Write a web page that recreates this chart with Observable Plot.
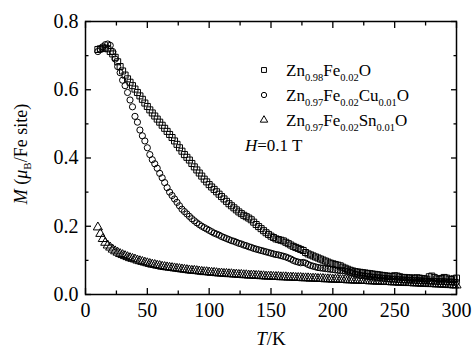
<!DOCTYPE html>
<html><head><meta charset="utf-8">
<script src="https://cdn.jsdelivr.net/npm/d3@7"></script>
<script src="https://cdn.jsdelivr.net/npm/@observablehq/plot@0.6"></script>
<style>
body{margin:0;background:#fff}
svg, svg text{font-family:"Liberation Serif","Times New Roman","DejaVu Serif",serif !important}
</style>
</head><body><div id="chart"></div>
<script>
const temperature = [10,12,14,16,18,20,22,24,26,28,30,32,34,36,38,40,42,44,46,48,50,52,54,56,58,60,62,64,66,68,70,72,74,76,78,80,82,84,86,88,90,92,94,96,98,100,102,104,106,108,110,112,114,116,118,120,122,124,126,128,130,132,134,136,138,140,142,144,146,148,150,152,154,156,158,160,162,164,166,168,170,172,174,176,178,180,182,184,186,188,190,192,194,196,198,200,202,204,206,208,210,212,214,216,218,220,222,224,226,228,230,232,234,236,238,240,242,244,246,248,250,252,254,256,258,260,262,264,266,268,270,272,274,276,278,280,282,284,286,288,290,292,294,296,298,300];

const mZnFe = [
0.718,0.72,0.722,0.722,0.72,0.712,0.705,0.695,0.682,0.668,
0.655,0.643,0.632,0.622,0.612,0.602,0.592,0.582,0.572,0.561,
0.551,0.541,0.532,0.523,0.514,0.505,0.496,0.487,0.478,0.469,
0.46,0.45,0.44,0.43,0.42,0.41,0.402,0.394,0.384,0.374,
0.365,0.356,0.347,0.338,0.33,0.322,0.315,0.308,0.301,0.294,
0.287,0.28,0.273,0.266,0.26,0.254,0.248,0.242,0.237,0.232,
0.228,0.224,0.219,0.212,0.205,0.199,0.193,0.187,0.181,0.176,
0.171,0.167,0.163,0.161,0.159,0.157,0.153,0.149,0.145,0.141,
0.138,0.135,0.132,0.129,0.123,0.119,0.116,0.113,0.11,0.107,
0.104,0.101,0.098,0.095,0.092,0.09,0.088,0.086,0.084,0.08,
0.077,0.074,0.071,0.069,0.067,0.066,0.065,0.064,0.063,0.062,
0.061,0.06,0.059,0.058,0.057,0.056,0.055,0.054,0.053,0.053,
0.055,0.054,0.052,0.05,0.05,0.049,0.049,0.048,0.048,0.049,
0.048,0.047,0.046,0.045,0.052,0.054,0.05,0.046,0.045,0.047,
0.05,0.048,0.045,0.044,0.046,0.048];

const mZnFeCu = [
0.712,0.718,0.726,0.732,0.734,0.73,0.712,0.69,0.668,0.65,
0.628,0.612,0.592,0.57,0.55,0.522,0.505,0.482,0.465,0.45,
0.43,0.41,0.395,0.383,0.37,0.355,0.342,0.328,0.313,0.3,
0.29,0.28,0.27,0.26,0.25,0.243,0.236,0.229,0.222,0.216,
0.21,0.205,0.2,0.196,0.192,0.188,0.184,0.18,0.177,0.174,
0.17,0.167,0.164,0.161,0.158,0.156,0.153,0.15,0.148,0.145,
0.143,0.14,0.138,0.135,0.133,0.131,0.129,0.127,0.125,0.123,
0.121,0.119,0.117,0.116,0.114,0.112,0.11,0.107,0.104,0.1,
0.097,0.095,0.093,0.094,0.092,0.088,0.085,0.083,0.081,0.079,
0.078,0.077,0.076,0.075,0.074,0.073,0.072,0.071,0.07,0.07,
0.069,0.067,0.065,0.063,0.06,0.058,0.056,0.055,0.054,0.053,
0.052,0.051,0.05,0.05,0.049,0.048,0.047,0.047,0.046,0.045,
0.045,0.044,0.044,0.043,0.043,0.042,0.042,0.042,0.041,0.041,
0.041,0.04,0.04,0.04,0.039,0.039,0.039,0.038,0.038,0.038,
0.038,0.037,0.037,0.037,0.036,0.036];

const mZnFeSn = [
0.197,0.178,0.163,0.152,0.144,0.138,0.132,0.127,0.123,0.119,
0.116,0.113,0.11,0.107,0.105,0.103,0.1,0.098,0.096,0.094,
0.092,0.09,0.088,0.087,0.085,0.084,0.082,0.081,0.08,0.079,
0.078,0.077,0.076,0.075,0.074,0.073,0.072,0.071,0.07,0.07,
0.069,0.068,0.067,0.066,0.066,0.065,0.064,0.064,0.063,0.062,
0.062,0.061,0.061,0.06,0.06,0.059,0.059,0.058,0.058,0.057,
0.057,0.056,0.056,0.056,0.055,0.055,0.054,0.054,0.053,0.053,
0.053,0.052,0.052,0.052,0.051,0.051,0.051,0.05,0.05,0.05,
0.049,0.049,0.049,0.048,0.048,0.048,0.047,0.047,0.047,0.046,
0.046,0.046,0.045,0.045,0.045,0.044,0.044,0.044,0.043,0.043,
0.043,0.042,0.042,0.042,0.041,0.041,0.041,0.04,0.04,0.04,
0.039,0.039,0.039,0.038,0.038,0.038,0.037,0.037,0.037,0.036,
0.036,0.036,0.035,0.035,0.035,0.034,0.034,0.034,0.033,0.033,
0.033,0.032,0.032,0.032,0.031,0.031,0.031,0.03,0.03,0.03,
0.029,0.029,0.028,0.028,0.027,0.027];

const seriesSymbols = ["square","circle","triangle"];
const legendParts = [
  [["Zn",0],["0.98",1],["Fe",0],["0.02",1],["O",0]],
  [["Zn",0],["0.97",1],["Fe",0],["0.02",1],["Cu",0],["0.01",1],["O",0]],
  [["Zn",0],["0.97",1],["Fe",0],["0.02",1],["Sn",0],["0.01",1],["O",0]]
];
const xTicks = [0,50,100,150,200,250,300];
const xMinorTicks = [25,75,125,175,225,275];
const yTicks = [0,0.2,0.4,0.6,0.8];
const yMinorTicks = [0.1,0.3,0.5,0.7];

const seriesValues = [mZnFe, mZnFeCu, mZnFeSn];
const rows = seriesValues.map(vals => temperature.map((t,i) => ({T:t, M:vals[i]})));

const FONT = "'Liberation Serif','Times New Roman','DejaVu Serif',serif";
const blank = () => "";
const chart = Plot.plot({
  width:475, height:350,
  marginLeft:85, marginRight:19, marginTop:21, marginBottom:56,
  style:{fontFamily:FONT, fontSize:"19px", background:"white", color:"black"},
  x:{domain:[0,300]},
  y:{domain:[0,0.8]},
  marks:[
    ...rows.map((r,k) => Plot.dot(r, {x:"T", y:"M", symbol:() => seriesSymbols[k], r: k===1 ? 3.1 : 3.4, stroke:"black", fill:"none", strokeWidth:1})),
    Plot.axisX({ticks:xTicks, tickSize:-6, tickPadding:14, tickFormat:d=>String(d), label:null, strokeWidth:1.3, fontSize:20}),
    Plot.axisX({ticks:xMinorTicks, tickSize:-3.5, tickFormat:blank, label:null, strokeWidth:1.3}),
    Plot.axisX({anchor:"top", ticks:xTicks, tickSize:-6, tickFormat:blank, label:null, strokeWidth:1.3}),
    Plot.axisX({anchor:"top", ticks:xMinorTicks, tickSize:-3.5, tickFormat:blank, label:null, strokeWidth:1.3}),
    Plot.axisY({ticks:yTicks, tickSize:-6, tickPadding:13, tickFormat:d3.format(".1f"), label:null, strokeWidth:1.3, fontSize:20}),
    Plot.axisY({ticks:yMinorTicks, tickSize:-3.5, tickFormat:blank, label:null, strokeWidth:1.3}),
    Plot.axisY({anchor:"right", ticks:yTicks, tickSize:-6, tickFormat:blank, label:null, strokeWidth:1.3}),
    Plot.axisY({anchor:"right", ticks:yMinorTicks, tickSize:-3.5, tickFormat:blank, label:null, strokeWidth:1.3}),
    Plot.frame({stroke:"black", strokeWidth:1.5})
  ]
});
document.getElementById("chart").appendChild(chart);

const svg = d3.select(chart);
svg.attr("font-family", FONT);
// x-axis label
const xl = svg.append("text").attr("x",271).attr("y",345).attr("text-anchor","middle")
  .attr("font-size",19).attr("fill","black").attr("font-family",FONT);
xl.append("tspan").attr("font-style","italic").text("T");
xl.append("tspan").text("/K");
// y-axis label
const yl = svg.append("text").attr("transform","translate(27,154) rotate(-90)")
  .attr("text-anchor","middle").attr("font-size",18).attr("fill","black").attr("font-family",FONT);
yl.append("tspan").attr("font-style","italic").text("M");
yl.append("tspan").text(" (");
yl.append("tspan").attr("font-style","italic").text("μ");
yl.append("tspan").attr("font-size",11).attr("dy",4).text("B");
yl.append("tspan").attr("dy",-4).text("/Fe site)");

// legend
const d3Sym = {square:d3.symbolSquare, circle:d3.symbolCircle, triangle:d3.symbolTriangle};
const lg = svg.append("g").attr("text-anchor","start").attr("font-family",FONT);
legendParts.forEach((parts,i) => {
  const cy = 70 + 25*i;
  lg.append("path").attr("transform",`translate(264,${cy})`)
    .attr("d", d3.symbol(d3Sym[seriesSymbols[i]], i===1 ? 22 : 24)())
    .attr("fill","none").attr("stroke","black").attr("stroke-width",1);
  const t = lg.append("text").attr("x",286).attr("y",cy+6).attr("font-size",17)
    .attr("fill","black").attr("text-anchor","start");
  let sub = false;
  parts.forEach(([s,isSub]) => {
    const sp = t.append("tspan").text(s);
    if (isSub && !sub) { sp.attr("font-size",10.5).attr("dy",5); sub = true; }
    else if (isSub) { sp.attr("font-size",10.5); }
    else if (!isSub && sub) { sp.attr("dy",-5); sub = false; }
  });
});
const ht = lg.append("text").attr("x",245).attr("y",151).attr("font-size",17)
  .attr("fill","black").attr("text-anchor","start");
ht.append("tspan").attr("font-style","italic").text("H");
ht.append("tspan").text("=0.1 T");
</script>
</body></html>
